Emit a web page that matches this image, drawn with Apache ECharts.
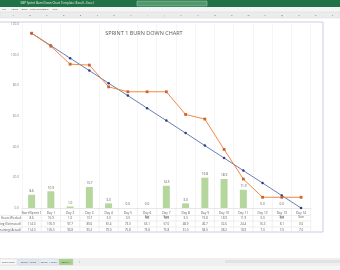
<!DOCTYPE html>
<html><head><meta charset="utf-8">
<script src="https://cdn.jsdelivr.net/npm/echarts@6/dist/echarts.min.js"></script>
<style>html,body{margin:0;padding:0;background:#fff}#c{width:340px;height:270px}</style>
</head><body><div id="c"></div>
<script>
const categories = ["Start/Sprint 1","Day 1","Day 2","Day 3","Day 4","Day 5","Day 6\nSat","Day 7\nSun","Day 8","Day 9","Day 10","Day 11","Day 12","Day 13\nSat","Day 14\nSun"];
const hoursWorked = [8.6, 10.9, 1.0, 13.7, 3.0, 0.0, 0.0, 14.5, 3.0, 19.8, 18.9, 11.9, 0.0, 0.0, null];
const remainingEstimated = [114.0, 105.9, 97.7, 89.6, 81.4, 73.3, 65.1, 57.0, 48.9, 40.7, 32.6, 24.4, 16.3, 8.1, 0.0];
const remainingActual = [114.0, 105.5, 93.8, 93.2, 79.0, 75.8, 75.8, 75.8, 61.0, 58.0, 38.2, 18.9, 7.0, 7.0, 7.0];
const rowNames = ["Hours Worked", "Remaining (Estimated)", "Remaining (Actual)"];
const colLetters = ["A","B","C","D","E","F","G","H","I","J","K","L","M","N","O","P","Q","R","S","T"];
const ribbonTabs = ["File","Home","Insert","Page Layout","Data","View"];
const sheetTabs = ["Sheet Start","Sprint 1 Data","Sprint 1 Chart","Sprint 1"];

const chart = echarts.init(document.getElementById('c'), null, {renderer:'canvas'});
const F = 'Open Sans, Liberation Sans, sans-serif';

const chrome = [
  {type:'rect', z:-10, shape:{x:0,y:0,width:340,height:7}, style:{fill:'#217346'}},
  {type:'text', z:-9, style:{x:57,y:3.5,text:'SBP Sprint Burn Down Chart Template (Excel) - Excel',fill:'#e8f3ec',font:'3px '+F,textAlign:'center',textVerticalAlign:'middle'}},
  {type:'rect', z:-9, shape:{x:137,y:1,width:70,height:5}, style:{fill:'#4f9a6c',stroke:'#a9d2b8',lineWidth:0.5}},
  {type:'rect', z:-10, shape:{x:0,y:7,width:340,height:5}, style:{fill:'#f4f4f4'}},
  {type:'rect', z:-10, shape:{x:0,y:12,width:340,height:6}, style:{fill:'#ececec',stroke:'#dadada',lineWidth:0.5}},
  {type:'rect', z:-10, shape:{x:0,y:258,width:340,height:8}, style:{fill:'#efefef'}},
  {type:'rect', z:-10, shape:{x:0,y:266,width:340,height:4}, style:{fill:'#f6f6f6'}},
  {type:'rect', z:-9, shape:{x:225,y:260,width:115,height:3}, style:{fill:'#e2e2e2'}},
  {type:'text', z:-9, style:{x:80,y:262,text:'+',fill:'#777',font:'4px '+F,textAlign:'center',textVerticalAlign:'middle'}}
];
ribbonTabs.forEach((t,i)=>{
  chrome.push({type:'text', z:-9, style:{x:2+[0,9,19,28,41,50][i], y:9.5, text:t, fill:'#555', font:'2.5px '+F, textVerticalAlign:'middle'}});
});
colLetters.forEach((t,i)=>{
  chrome.push({type:'text', z:-9, style:{x:13.3+16.8*i, y:15, text:t, fill:'#666', font:'2.5px '+F, textAlign:'center', textVerticalAlign:'middle'}});
});
const tabX=[[0,17,'#f8f8f8'],[18,21,'#dfe7f1'],[40,18,'#e6edf5'],[59,14,'#a8d08d']];
sheetTabs.forEach((t,i)=>{
  chrome.push({type:'rect', z:-9, shape:{x:tabX[i][0],y:259,width:tabX[i][1],height:6}, style:{fill:tabX[i][2],stroke:'#cfcfcf',lineWidth:0.4}});
  chrome.push({type:'text', z:-8, style:{x:tabX[i][0]+tabX[i][1]/2, y:262, text:t, fill:'#444', font:'2.5px '+F, textAlign:'center', textVerticalAlign:'middle'}});
});
chrome.push({type:'rect', z:-5, shape:{x:-2,y:22,width:325,height:210}, style:{fill:'#ffffff',stroke:'#c9cfe0',lineWidth:1}});

chart.setOption({
  animation:false,
  title:{text:'SPRINT 1 BURN DOWN CHART', left:139, top:25.5, textAlign:'center', textStyle:{fontFamily:F,fontSize:5.5,fontWeight:'normal',color:'#595959'}},
  grid:{left:22,right:29.3,top:24,bottom:62},
  xAxis:{type:'category', data:categories, boundaryGap:true,
    axisLine:{lineStyle:{color:'#d9d9d9',width:0.6}}, axisTick:{show:false},
    axisLabel:{fontSize:3.2, color:'#595959', margin:3, lineHeight:4, fontFamily:F, interval:0},
    splitLine:{show:true, lineStyle:{color:'#eeeeee',width:0.6}}},
  yAxis:{type:'value', min:0, max:120, interval:20,
    axisLine:{show:false}, axisTick:{show:false},
    axisLabel:{fontSize:3.2, color:'#7f7f7f', margin:3, fontFamily:F, formatter:v=>v.toFixed(1)},
    splitLine:{show:false}},
  series:[
    {name:'Hours Worked', type:'bar', data:hoursWorked, barWidth:7,
     itemStyle:{color:'#b5d79d'},
     label:{show:true, position:'top', fontSize:3.2, color:'#595959', distance:2, fontFamily:F, formatter:p=>p.value==null?'':Number(p.value).toFixed(1)}},
    {name:'Remaining (Estimated)', type:'line', data:remainingEstimated, symbol:'circle', symbolSize:2.5,
     lineStyle:{color:'#5a6fae',width:0.9}, itemStyle:{color:'#2e3d7a'}},
    {name:'Remaining (Actual)', type:'line', data:remainingActual, symbol:'rect', symbolSize:2.8,
     lineStyle:{color:'#ed7d31',width:0.9}, itemStyle:{color:'#d0632a'}}
  ],
  graphic:{elements:chrome}
});

// data table below the plot
const rows = [hoursWorked, remainingEstimated, remainingActual];
const tbl = [];
const yBase = chart.convertToPixel({yAxisIndex:0}, 0);
const x0 = chart.convertToPixel({xAxisIndex:0}, 0);
const x1 = chart.convertToPixel({xAxisIndex:0}, 1);
const step = x1 - x0;
const rowY = [218, 224, 230];
[215.5, 221, 227].forEach(y=>{
  tbl.push({type:'line', z:-4, shape:{x1:-2,y1:y,x2:x0+step*(categories.length-0.5),y2:y}, style:{stroke:'#e3e3e3',lineWidth:0.6}});
});
for(let i=0;i<=categories.length;i++){
  const x = x0 + step*(i-0.5);
  tbl.push({type:'line', z:-4, shape:{x1:x,y1:yBase,x2:x,y2:232}, style:{stroke:'#e6e6e6',lineWidth:0.6}});
}
rowNames.forEach((n,r)=>{
  tbl.push({type:'text', z:3, style:{x:21, y:rowY[r], text:n, fill:'#595959', font:'3px '+F, textAlign:'right', textVerticalAlign:'middle'}});
  rows[r].forEach((v,i)=>{
    if(v==null) return;
    const x = chart.convertToPixel({xAxisIndex:0}, i);
    tbl.push({type:'text', z:3, style:{x:x, y:rowY[r], text:v.toFixed(1), fill:'#595959', font:'3px '+F, textAlign:'center', textVerticalAlign:'middle'}});
  });
});
chart.setOption({graphic:{elements:chrome.concat(tbl)}}, {replaceMerge:['graphic']});
</script></body></html>
